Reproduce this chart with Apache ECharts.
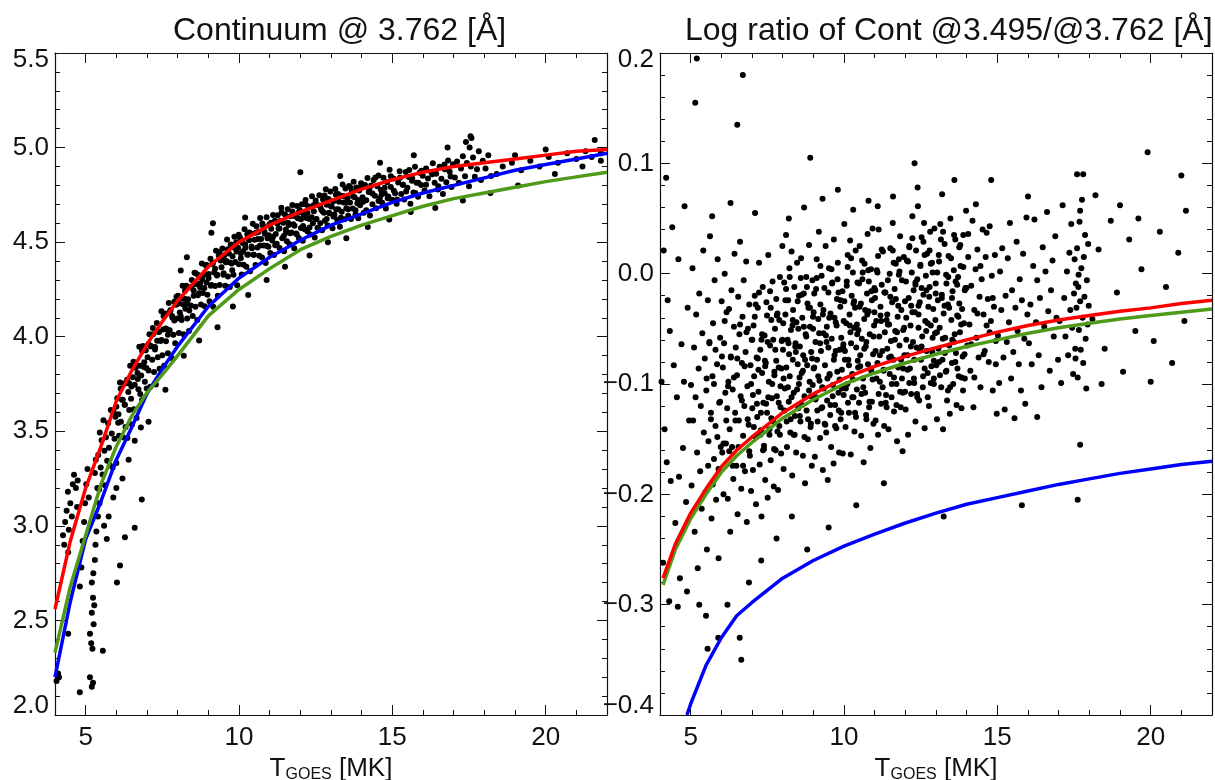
<!DOCTYPE html>
<html>
<head>
<meta charset="utf-8">
<script src="https://cdn.jsdelivr.net/npm/echarts@6/dist/echarts.min.js"></script>
<style>
html,body{margin:0;padding:0;background:#fff;}
#main{width:1215px;height:780px;}
</style>
</head>
<body>
<div id="main"></div>
<script>
// ---------- titles ----------
const titleLeft = 'Continuum @ 3.762 [Å]';
const titleRight = 'Log ratio of Cont @3.495/@3.762 [Å]';

// ---------- tick values ----------
const xMajorTicks = [5, 10, 15, 20];

// ---------- model curves, left panel (Continuum) ----------
const xCurveL = [4, 4.5, 5, 5.5, 6, 6.5, 7, 7.5, 8, 9, 10, 11, 12, 13, 14, 15, 16, 17, 18, 19, 20, 21, 22];
const redL   = [2.56, 2.92, 3.2, 3.42, 3.66, 3.82, 3.96, 4.08, 4.19, 4.37, 4.5, 4.59, 4.66, 4.72, 4.78, 4.83, 4.87, 4.9, 4.92, 4.94, 4.96, 4.98, 4.99];
const greenL = [2.33, 2.68, 2.95, 3.22, 3.42, 3.58, 3.705, 3.8, 3.9, 4.11, 4.25, 4.36, 4.46, 4.53, 4.59, 4.64, 4.69, 4.73, 4.76, 4.79, 4.82, 4.845, 4.87];
const blueL  = [2.2, 2.6, 2.93, 3.13, 3.35, 3.52, 3.7, 3.83, 3.95, 4.16, 4.31, 4.42, 4.51, 4.59, 4.65, 4.71, 4.76, 4.8, 4.84, 4.88, 4.91, 4.94, 4.97];

// ---------- model curves, right panel (log ratio) ----------
const xCurveR = [4.1, 4.5, 5, 5.5, 6, 6.5, 7, 7.5, 8, 9, 10, 11, 12, 13, 14, 15, 16, 17, 18, 19, 20, 21, 22];
const redR   = [-0.276, -0.245, -0.217, -0.195, -0.175, -0.16, -0.148, -0.137, -0.126, -0.109, -0.095, -0.084, -0.075, -0.067, -0.06, -0.053, -0.047, -0.042, -0.038, -0.034, -0.031, -0.027, -0.024];
const greenR = [-0.282, -0.25, -0.222, -0.2, -0.18, -0.165, -0.153, -0.142, -0.131, -0.114, -0.1, -0.09, -0.081, -0.073, -0.066, -0.06, -0.054, -0.049, -0.045, -0.041, -0.038, -0.035, -0.032];
const xBlueR = [4.88, 5, 5.5, 6, 6.5, 7, 8, 9, 10, 11, 12, 13, 14, 15, 16, 17, 18, 19, 20, 21, 22];
const blueR  = [-0.4, -0.39, -0.355, -0.33, -0.31, -0.298, -0.276, -0.26, -0.247, -0.236, -0.226, -0.217, -0.209, -0.203, -0.197, -0.191, -0.186, -0.181, -0.177, -0.173, -0.17];

// ---------- observations, left panel ----------
const contLow = [[4.05,2.18],[4.1,2.22],[4.13,2.2],[4.43,2.43],[4.3,2.9],[4.26,2.95],[4.38,3.08],[4.33,3.02],[4.45,2.98],[4.42,3.18],[4.5,3.12],[4.58,3.22],[4.55,3.05],[4.62,3.27],[4.68,3.2],[4.74,3.24],[4.72,3.1],[4.81,2.12],[4.81,2.68],[4.86,2.78],[4.9,2.92],[4.95,3.02],[4.98,3.12],[5.02,3.22],[5.06,3.3],[5.1,3.15],[5.14,2.2],[5.24,2.17],[5.2,2.15],[5.14,2.43],[5.2,2.54],[5.24,2.62],[5.2,2.7],[5.22,2.35],[5.18,2.38],[5.26,2.48],[5.28,2.58],[5.25,2.75],[5.3,2.82],[5.32,2.9],[5.35,2.97],[5.56,2.34],[5.69,2.93],[6.02,2.7],[6.12,2.79],[6.28,2.94],[6.6,2.99],[6.83,3.14],[5.4,3.05],[5.45,3.12],[5.38,3.2],[5.6,3.0],[5.75,3.05],[5.9,3.15],[6.0,3.2],[6.2,3.25],[6.4,3.35],[5.3,3.28],[5.33,3.35],[4.43,2.86]];
const contBandA = [[5.41,3.374],[5.44,3.192],[5.46,3.493],[5.49,3.308],[5.52,3.452],[5.55,3.271],[5.58,3.558],[5.61,3.397],[5.63,3.215],[5.66,3.469],[5.7,3.344],[5.73,3.542],[5.76,3.413],[5.79,3.321],[5.82,3.613],[5.85,3.488],[5.88,3.309],[5.91,3.602],[5.94,3.46],[5.97,3.577],[6.0,3.332],[6.03,3.674],[6.06,3.545],[6.09,3.477],[6.12,3.758],[6.15,3.55],[6.18,3.667],[6.21,3.468],[6.24,3.753],[6.27,3.64],[6.3,3.523],[6.33,3.754],[6.36,3.465],[6.39,3.708],[6.42,3.612],[6.45,3.847],[6.48,3.672],[6.51,3.536],[6.54,3.786],[6.57,3.616],[6.6,3.746],[6.63,3.852],[6.66,3.57],[6.69,3.808],[6.72,3.722],[6.75,3.947],[6.78,3.697],[6.81,3.795],[6.84,3.665],[6.87,3.951],[6.9,3.84],[6.93,3.762],[6.96,3.928],[6.99,3.726]];
const contBandB = [[7.02,3.891],[7.05,3.821],[7.08,4.013],[7.11,3.735],[7.14,3.95],[7.17,3.878],[7.2,4.013],[7.23,3.814],[7.26,3.946],[7.29,3.747],[7.32,4.072],[7.35,3.892],[7.38,4.025],[7.41,3.83],[7.44,3.977],[7.47,4.135],[7.5,3.902],[7.53,4.038],[7.56,3.847],[7.59,4.123],[7.62,3.976],[7.65,4.04],[7.68,3.913],[7.71,4.178],[7.74,4.034],[7.77,4.141],[7.8,3.888],[7.83,4.1],[7.86,4.01],[7.89,4.185],[7.92,3.965],[7.95,4.169],[7.98,4.096],[8.01,4.217],[8.04,4.019],[8.07,4.128],[8.1,4.204],[8.13,4.089],[8.16,4.27],[8.19,4.013],[8.22,4.201],[8.25,4.148],[8.28,4.27],[8.31,4.096],[8.34,4.198],[8.37,4.03],[8.4,4.261],[8.43,4.165],[8.46,4.3],[8.49,4.109],[8.52,4.216],[8.55,4.338],[8.58,4.158],[8.61,4.277],[8.64,4.088],[8.67,4.326],[8.7,4.23],[8.73,4.281],[8.76,4.17],[8.79,4.387],[8.82,4.231],[8.85,4.327],[8.88,4.161],[8.91,4.378],[8.94,4.286],[8.97,4.222]];
const contBandC = [[9.01,4.331],[9.04,4.188],[9.07,4.412],[9.1,4.273],[9.13,4.385],[9.16,4.159],[9.19,4.339],[9.22,4.268],[9.25,4.455],[9.28,4.324],[9.31,4.217],[9.34,4.43],[9.37,4.273],[9.4,4.403],[9.43,4.367],[9.46,4.466],[9.49,4.327],[9.52,4.431],[9.55,4.27],[9.58,4.402],[9.61,4.514],[9.64,4.319],[9.67,4.44],[9.7,4.263],[9.73,4.488],[9.76,4.387],[9.79,4.426],[9.82,4.328],[9.85,4.529],[9.88,4.395],[9.91,4.5],[9.94,4.272],[9.97,4.471],[10.0,4.383],[10.03,4.525],[10.06,4.44],[10.09,4.329],[10.12,4.495],[10.15,4.38],[10.18,4.568],[10.21,4.471],[10.24,4.37],[10.27,4.541],[10.3,4.435],[10.33,4.51],[10.36,4.346],[10.39,4.546],[10.42,4.468],[10.45,4.597],[10.48,4.434],[10.51,4.512],[10.54,4.379],[10.57,4.584],[10.6,4.472],[10.63,4.554],[10.66,4.428],[10.69,4.627],[10.72,4.517],[10.75,4.419],[10.78,4.587],[10.81,4.482],[10.84,4.544],[10.87,4.39],[10.9,4.632],[10.93,4.52],[10.96,4.475],[10.99,4.593]];
const contBandD = [[11.02,4.442],[11.05,4.571],[11.08,4.509],[11.11,4.644],[11.14,4.432],[11.17,4.613],[11.2,4.543],[11.23,4.491],[11.26,4.642],[11.29,4.572],[11.32,4.469],[11.35,4.612],[11.38,4.682],[11.41,4.52],[11.44,4.603],[11.47,4.452],[11.5,4.646],[11.53,4.55],[11.56,4.505],[11.59,4.674],[11.62,4.591],[11.65,4.489],[11.68,4.637],[11.71,4.551],[11.74,4.697],[11.77,4.595],[11.8,4.468],[11.83,4.637],[11.86,4.546],[11.89,4.691],[11.92,4.626],[11.95,4.522],[11.98,4.67],[12.02,4.575],[12.05,4.7],[12.08,4.508],[12.11,4.645],[12.14,4.568],[12.17,4.723],[12.2,4.628],[12.23,4.558],[12.26,4.69],[12.29,4.623],[12.32,4.54],[12.35,4.685],[12.38,4.743],[12.41,4.6],[12.44,4.663],[12.47,4.525],[12.5,4.72],[12.53,4.623],[12.56,4.575],[12.59,4.695],[12.62,4.748],[12.65,4.6],[12.68,4.673],[12.71,4.563],[12.74,4.725],[12.77,4.655],[12.8,4.613],[12.83,4.78],[12.86,4.698],[12.89,4.588],[12.92,4.728],[12.95,4.653],[12.98,4.768]];
const contBandE = [[13.02,4.689],[13.05,4.574],[13.08,4.716],[13.11,4.646],[13.14,4.781],[13.17,4.673],[13.2,4.618],[13.23,4.754],[13.26,4.714],[13.29,4.582],[13.32,4.745],[13.35,4.661],[13.38,4.805],[13.41,4.71],[13.44,4.621],[13.47,4.784],[13.5,4.679],[13.53,4.734],[13.56,4.64],[13.59,4.797],[13.62,4.71],[13.65,4.622],[13.68,4.767],[13.71,4.678],[13.74,4.819],[13.77,4.738],[13.8,4.648],[13.83,4.789],[13.86,4.706],[13.89,4.626],[13.92,4.773],[13.95,4.695],[13.98,4.812],[14.03,4.737],[14.07,4.656],[14.11,4.802],[14.15,4.721],[14.19,4.839],[14.23,4.765],[14.27,4.641],[14.31,4.8],[14.35,4.701],[14.39,4.828],[14.43,4.745],[14.47,4.679],[14.51,4.796],[14.55,4.852],[14.59,4.732],[14.63,4.776],[14.67,4.708],[14.71,4.841],[14.75,4.758],[14.79,4.678],[14.83,4.816],[14.87,4.741],[14.91,4.883],[14.95,4.791],[14.99,4.724]];
const contBandF = [[15.04,4.836],[15.09,4.759],[15.14,4.703],[15.19,4.815],[15.24,4.875],[15.29,4.754],[15.34,4.803],[15.39,4.726],[15.44,4.871],[15.49,4.788],[15.54,4.844],[15.59,4.703],[15.64,4.824],[15.69,4.763],[15.74,4.898],[15.79,4.814],[15.84,4.74],[15.89,4.867],[15.94,4.802],[15.99,4.851],[16.05,4.773],[16.1,4.889],[16.16,4.836],[16.21,4.743],[16.27,4.871],[16.32,4.917],[16.38,4.814],[16.43,4.862],[16.49,4.778],[16.54,4.898],[16.6,4.835],[16.65,4.755],[16.71,4.885],[16.76,4.816],[16.82,4.931],[16.87,4.872],[16.93,4.792],[16.98,4.912],[17.04,4.842],[17.11,4.926],[17.17,4.814],[17.24,4.89],[17.3,4.954],[17.37,4.848],[17.43,4.918],[17.5,4.796],[17.56,4.9],[17.63,4.948],[17.69,4.846],[17.76,4.886],[17.82,4.98],[17.89,4.828],[17.95,4.93],[18.04,4.89],[18.13,4.96],[18.22,4.85]];
const contCore = [[6.0,3.63],[6.07,3.59],[6.14,3.725],[6.21,3.667],[6.28,3.64],[6.35,3.772],[6.42,3.754],[6.49,3.737],[6.56,3.867],[6.63,3.836],[6.7,3.776],[6.77,3.846],[6.84,3.925],[6.91,3.865],[6.98,3.834],[7.05,3.962],[7.12,3.949],[7.19,4.046],[7.26,3.932],[7.33,3.979],[7.4,4.026],[7.47,3.983],[7.54,4.109],[7.61,4.044],[7.68,4.01],[7.75,4.135],[7.82,4.11],[7.89,4.086],[7.96,4.211],[8.03,4.175],[8.1,4.108],[8.17,4.171],[8.24,4.243],[8.31,4.176],[8.38,4.138],[8.45,4.261],[8.52,4.244],[8.59,4.336],[8.66,4.219],[8.73,4.261],[8.8,4.304],[8.87,4.257],[8.94,4.379],[9.01,4.311],[9.08,4.27],[9.15,4.39],[9.22,4.359],[9.29,4.328],[9.36,4.447],[9.43,4.406],[9.5,4.335],[9.57,4.394],[9.64,4.463],[9.71,4.392],[9.78,4.351],[9.85,4.471],[9.92,4.45],[9.99,4.539],[10.06,4.415],[10.13,4.452],[10.2,4.488],[10.27,4.434],[10.34,4.551],[10.41,4.477],[10.48,4.433],[10.55,4.55],[10.62,4.516],[10.69,4.482],[10.76,4.598],[10.83,4.555],[10.9,4.481],[10.97,4.537],[11.04,4.603],[11.11,4.528],[11.18,4.483],[11.25,4.598],[11.32,4.572],[11.39,4.657],[11.46,4.532],[11.53,4.567],[11.6,4.602],[11.67,4.547],[11.74,4.662],[11.81,4.587],[11.88,4.542],[11.95,4.657],[12.02,4.621],[12.09,4.585],[12.16,4.7],[12.23,4.654],[12.3,4.578],[12.37,4.632],[12.44,4.696],[12.51,4.621],[12.58,4.575],[12.65,4.689],[12.72,4.663],[12.79,4.747],[12.86,4.622],[12.93,4.656],[13.0,4.69],[13.08,4.635],[13.16,4.75],[13.24,4.674],[13.32,4.629],[13.4,4.744],[13.48,4.709],[13.56,4.674],[13.64,4.788],[13.72,4.743],[13.8,4.668],[13.88,4.723],[13.96,4.788],[14.05,4.713],[14.15,4.668],[14.25,4.782],[14.35,4.757],[14.45,4.842],[14.55,4.718],[14.65,4.752],[14.75,4.788],[14.85,4.732],[14.95,4.848],[15.05,4.772],[15.15,4.726],[15.25,4.84],[15.35,4.804],[15.45,4.768],[15.55,4.882],[15.65,4.836],[15.75,4.76],[15.85,4.814],[15.95,4.878],[16.1,4.803],[16.3,4.859],[16.5,4.795],[16.7,4.911],[16.9,4.847]];
const contSparse = [[6.8,3.52],[6.6,3.45],[7.05,3.55],[7.6,3.72],[8.2,3.9],[8.7,3.98],[9.3,4.05],[9.8,4.16],[10.3,4.22],[10.9,4.3],[11.5,4.37],[12.3,4.43],[12.9,4.5],[13.5,4.52],[14.2,4.58],[14.9,4.62],[15.6,4.66],[16.4,4.68],[17.3,4.72],[18.2,4.76],[19.1,4.8],[20.3,4.86],[21.2,4.9],[21.8,4.93],[8.1,4.35],[8.3,4.42],[9.15,4.6],[9.1,4.55],[10.2,4.63],[12.0,4.87],[13.3,4.85],[14.6,4.92],[15.7,4.96],[16.8,5.0],[17.4,5.03],[17.55,5.06],[17.58,5.05],[17.52,5.0],[18.4,4.86],[18.6,4.9],[18.9,4.92],[19.2,4.88],[19.5,4.93],[19.8,4.9],[20.1,4.95],[20.4,4.92],[20.7,4.97],[21.0,4.94],[21.3,4.98],[21.5,4.95],[21.6,5.04],[21.8,4.97],[19.0,4.96],[20.0,4.99]];

// ---------- observations, right panel ----------
const ratioG1 = [[4.1,-0.262],[4.15,-0.141],[4.2,0.087],[4.25,-0.024],[4.3,-0.297],[4.35,-0.188],[4.4,0.042],[4.45,-0.083],[4.5,-0.226],[4.55,-0.112],[4.6,0.013],[4.65,-0.276],[4.7,-0.064],[4.75,-0.158],[4.8,0.061],[4.85,-0.207],[4.9,-0.031],[4.95,-0.133],[4.05,-0.098],[4.12,0.021],[4.32,-0.052],[4.58,-0.302],[4.88,-0.288],[4.22,-0.171],[4.62,-0.184],[4.78,-0.098]];
const ratioG2 = [[5.01,-0.101],[5.03,-0.192],[5.06,0.005],[5.08,-0.133],[5.11,-0.067],[5.13,-0.234],[5.16,-0.112],[5.18,-0.037],[5.21,-0.162],[5.23,-0.267],[5.26,-0.086],[5.28,-0.018],[5.31,-0.179],[5.33,-0.12],[5.36,-0.213],[5.38,-0.054],[5.41,0.021],[5.43,-0.144],[5.46,-0.077],[5.48,-0.198],[5.51,-0.106],[5.53,-0.25],[5.56,-0.024],[5.58,-0.152],[5.61,-0.062],[5.63,0.034],[5.66,-0.126],[5.68,-0.222],[5.71,-0.093],[5.73,-0.045],[5.76,-0.168],[5.78,-0.006],[5.81,-0.138],[5.83,-0.205],[5.86,-0.082],[5.88,0.013],[5.91,-0.258],[5.93,-0.117],[5.96,-0.058],[5.98,-0.157]];
const ratioG3 = [[6.01,-0.025],[6.03,-0.162],[6.05,-0.085],[6.07,-0.2],[6.09,-0.063],[6.11,0.0],[6.13,-0.108],[6.15,-0.154],[6.17,-0.035],[6.19,-0.122],[6.21,-0.204],[6.23,-0.098],[6.25,-0.032],[6.27,-0.141],[6.29,-0.234],[6.31,-0.076],[6.33,-0.015],[6.35,-0.157],[6.37,-0.105],[6.39,-0.186],[6.41,-0.048],[6.43,0.018],[6.45,-0.126],[6.47,-0.067],[6.49,-0.174],[6.51,-0.092],[6.53,-0.218],[6.55,-0.021],[6.57,-0.133],[6.59,-0.055],[6.61,0.029],[6.63,-0.111],[6.65,-0.195],[6.67,-0.081],[6.69,-0.039],[6.71,-0.147],[6.73,-0.006],[6.75,-0.12],[6.77,-0.179],[6.79,-0.071],[6.81,0.011],[6.83,-0.225],[6.85,-0.102],[6.87,-0.05],[6.89,-0.137],[6.91,-0.028],[6.93,-0.165],[6.95,-0.083],[6.97,-0.197],[6.99,-0.06]];
const ratioG4 = [[7.01,-0.122],[7.03,-0.178],[7.05,-0.047],[7.07,-0.093],[7.09,-0.02],[7.11,-0.148],[7.13,-0.209],[7.15,-0.076],[7.17,-0.13],[7.19,-0.031],[7.21,-0.107],[7.23,0.01],[7.25,-0.173],[7.27,-0.069],[7.29,-0.142],[7.31,-0.22],[7.33,-0.09],[7.35,-0.012],[7.37,-0.117],[7.39,-0.156],[7.41,-0.056],[7.43,-0.187],[7.45,-0.081],[7.47,-0.026],[7.49,-0.126],[7.51,-0.203],[7.53,0.017],[7.55,-0.098],[7.57,-0.146],[7.59,-0.065],[7.61,-0.169],[7.63,-0.042],[7.65,-0.113],[7.67,-0.007],[7.69,-0.134],[7.71,-0.193],[7.73,-0.092],[7.75,-0.05],[7.77,-0.16],[7.79,-0.079],[7.81,-0.111],[7.83,-0.036],[7.85,-0.196],[7.87,-0.085],[7.89,-0.138],[7.91,-0.003],[7.93,-0.102],[7.95,-0.163],[7.97,-0.061],[7.99,0.025]];
const ratioG5 = [[8.01,-0.069],[8.03,-0.177],[8.05,-0.008],[8.07,-0.104],[8.09,-0.037],[8.11,0.035],[8.12,-0.085],[8.14,-0.157],[8.16,-0.06],[8.18,-0.024],[8.2,-0.116],[8.22,0.005],[8.23,-0.093],[8.25,-0.144],[8.27,-0.051],[8.29,0.02],[8.31,-0.183],[8.33,-0.078],[8.34,-0.033],[8.36,-0.108],[8.38,-0.012],[8.4,-0.129],[8.42,-0.063],[8.44,-0.162],[8.45,-0.044],[8.47,0.01],[8.49,-0.082],[8.51,-0.122],[8.53,-0.02],[8.55,-0.094],[8.56,-0.066],[8.58,-0.134],[8.6,0.014],[8.62,-0.09],[8.64,-0.04],[8.66,-0.165],[8.67,-0.074],[8.69,-0.018],[8.71,-0.111],[8.73,-0.19],[8.75,-0.055],[8.77,-0.003],[8.78,-0.124],[8.8,-0.083],[8.82,-0.15],[8.84,-0.031],[8.86,0.026],[8.88,-0.098],[8.89,-0.048],[8.91,-0.139],[8.93,-0.071],[8.95,-0.174],[8.97,-0.006],[8.98,-0.101],[8.99,-0.039]];
const ratioG6 = [[9.01,-0.086],[9.03,-0.018],[9.05,-0.166],[9.07,-0.062],[9.09,-0.112],[9.11,0.013],[9.12,-0.078],[9.14,-0.134],[9.16,-0.041],[9.18,0.038],[9.2,-0.097],[9.22,-0.149],[9.23,-0.028],[9.25,-0.07],[9.27,-0.002],[9.29,-0.121],[9.31,-0.178],[9.33,-0.054],[9.34,-0.104],[9.36,-0.013],[9.38,-0.083],[9.4,0.025],[9.42,-0.144],[9.44,-0.048],[9.45,-0.115],[9.47,-0.187],[9.49,-0.067],[9.51,0.005],[9.53,-0.092],[9.55,-0.128],[9.56,-0.036],[9.58,-0.157],[9.6,-0.059],[9.62,-0.008],[9.64,-0.101],[9.66,-0.172],[9.67,0.031],[9.69,-0.074],[9.71,-0.119],[9.73,-0.044],[9.75,-0.14],[9.77,-0.023],[9.78,-0.089],[9.8,0.01],[9.82,-0.108],[9.84,-0.162],[9.86,-0.069],[9.88,-0.03],[9.89,-0.132],[9.91,-0.058],[9.93,-0.087],[9.95,-0.016],[9.96,-0.163],[9.98,-0.064],[9.99,-0.11]];
const ratioG7 = [[10.01,0.045],[10.03,-0.07],[10.05,-0.139],[10.07,-0.045],[10.09,-0.011],[10.11,-0.1],[10.12,0.017],[10.14,-0.078],[10.16,-0.126],[10.18,-0.037],[10.2,0.03],[10.22,-0.164],[10.23,-0.063],[10.25,-0.02],[10.27,-0.091],[10.29,0.001],[10.31,-0.112],[10.33,-0.049],[10.34,-0.143],[10.36,-0.031],[10.38,0.021],[10.4,-0.067],[10.42,-0.105],[10.44,-0.008],[10.45,-0.079],[10.47,-0.051],[10.49,-0.117],[10.51,0.025],[10.53,-0.074],[10.55,-0.027],[10.56,-0.147],[10.58,-0.059],[10.6,-0.005],[10.62,-0.095],[10.64,-0.171],[10.66,-0.041],[10.67,0.009],[10.69,-0.108],[10.71,-0.066],[10.73,-0.132],[10.75,-0.018],[10.77,0.036],[10.78,-0.082],[10.8,-0.034],[10.82,-0.121],[10.84,-0.055],[10.86,-0.158],[10.88,0.004],[10.89,-0.088],[10.91,-0.024],[10.93,0.041],[10.95,-0.073],[10.96,-0.136],[10.98,-0.047],[10.99,-0.013]];
const ratioG8 = [[11.01,-0.022],[11.03,-0.133],[11.05,-0.043],[11.07,0.003],[11.09,-0.081],[11.11,-0.146],[11.13,0.04],[11.15,-0.057],[11.17,-0.098],[11.19,-0.03],[11.21,-0.118],[11.23,-0.01],[11.25,-0.07],[11.27,0.02],[11.29,-0.088],[11.31,-0.138],[11.33,-0.053],[11.35,-0.017],[11.37,-0.11],[11.39,-0.042],[11.41,-0.068],[11.43,-0.006],[11.45,-0.141],[11.47,-0.046],[11.49,-0.091],[11.51,0.023],[11.53,-0.061],[11.55,-0.112],[11.57,-0.026],[11.59,0.046],[11.61,-0.078],[11.63,-0.125],[11.65,-0.014],[11.67,-0.052],[11.69,0.009],[11.71,-0.1],[11.73,-0.152],[11.75,-0.039],[11.77,-0.085],[11.79,-0.001],[11.81,-0.065],[11.83,0.034],[11.85,-0.121],[11.87,-0.033],[11.89,-0.095],[11.91,-0.161],[11.93,-0.051],[11.95,0.015],[11.97,-0.074],[11.99,-0.107]];
const ratioG9 = [[12.01,-0.123],[12.03,-0.04],[12.05,0.012],[12.07,-0.074],[12.09,-0.146],[12.11,-0.022],[12.13,0.025],[12.15,-0.086],[12.17,-0.047],[12.19,-0.109],[12.21,0.001],[12.23,0.052],[12.25,-0.062],[12.27,-0.015],[12.29,-0.099],[12.31,-0.035],[12.33,-0.134],[12.35,0.021],[12.37,-0.067],[12.39,-0.005],[12.41,0.061],[12.43,-0.049],[12.45,-0.115],[12.47,-0.026],[12.49,0.007],[12.51,-0.078],[12.53,0.033],[12.55,-0.057],[12.57,-0.103],[12.59,-0.019],[12.61,0.046],[12.63,-0.14],[12.65,-0.043],[12.67,-0.002],[12.69,-0.07],[12.71,0.018],[12.73,-0.09],[12.75,-0.03],[12.77,-0.12],[12.79,-0.012],[12.81,0.038],[12.83,-0.047],[12.85,-0.084],[12.87,0.01],[12.89,-0.058],[12.91,-0.032],[12.93,-0.095],[12.95,0.041],[12.97,-0.054],[12.99,-0.009]];
const ratioG10 = [[13.01,-0.083],[13.03,-0.132],[13.06,-0.024],[13.08,-0.068],[13.1,0.011],[13.12,-0.049],[13.14,0.045],[13.17,-0.103],[13.19,-0.019],[13.21,-0.078],[13.23,-0.141],[13.25,-0.036],[13.28,0.027],[13.3,-0.058],[13.32,-0.089],[13.34,-0.009],[13.36,-0.115],[13.39,-0.028],[13.41,0.016],[13.43,-0.065],[13.45,-0.127],[13.47,0.05],[13.5,-0.042],[13.52,-0.081],[13.54,-0.016],[13.56,-0.1],[13.58,0.003],[13.61,-0.055],[13.63,0.031],[13.65,-0.072],[13.67,-0.119],[13.69,-0.038],[13.72,-0.003],[13.74,-0.093],[13.76,-0.027],[13.78,-0.053],[13.8,0.007],[13.83,-0.122],[13.85,-0.032],[13.87,-0.075],[13.89,0.035],[13.91,-0.045],[13.94,-0.095],[13.96,-0.013],[13.98,0.057]];
const ratioG11 = [[14.02,-0.065],[14.05,0.036],[14.09,-0.046],[14.12,-0.088],[14.15,-0.011],[14.19,0.048],[14.22,-0.121],[14.25,-0.033],[14.29,0.004],[14.32,-0.058],[14.35,0.022],[14.39,-0.076],[14.42,-0.021],[14.45,-0.103],[14.49,-0.005],[14.52,0.04],[14.55,-0.037],[14.59,-0.07],[14.62,0.015],[14.65,-0.047],[14.69,-0.023],[14.72,-0.08],[14.75,0.043],[14.79,-0.043],[14.82,-0.002],[14.85,-0.106],[14.89,-0.03],[14.92,0.017],[14.95,-0.061],[14.98,-0.127]];
const ratioG12 = [[15.02,-0.056],[15.06,-0.099],[15.09,0.002],[15.13,-0.033],[15.16,0.023],[15.2,-0.076],[15.24,-0.123],[15.27,-0.02],[15.31,-0.062],[15.34,0.014],[15.38,-0.044],[15.41,0.046],[15.45,-0.095],[15.48,-0.015],[15.52,-0.071],[15.56,-0.131],[15.59,-0.031],[15.63,0.029],[15.66,-0.052],[15.7,-0.082],[15.73,-0.005],[15.77,-0.106],[15.8,-0.024],[15.84,0.018],[15.88,-0.059],[15.91,-0.118],[15.95,0.051],[15.98,-0.037]];
const ratioG13 = [[16.03,-0.063],[16.08,-0.028],[16.12,-0.082],[16.17,0.007],[16.21,0.049],[16.26,-0.044],[16.3,-0.006],[16.35,-0.074],[16.39,-0.022],[16.44,-0.103],[16.48,0.024],[16.53,-0.048],[16.57,0.002],[16.62,0.056],[16.66,-0.034],[16.71,-0.088],[16.75,-0.015],[16.8,0.012],[16.84,-0.057],[16.89,0.034],[16.93,-0.04],[16.98,-0.078]];
const ratioG14 = [[17.03,-0.043],[17.08,-0.099],[17.13,0.062],[17.18,-0.022],[17.22,-0.057],[17.27,0.002],[17.31,-0.074],[17.35,0.019],[17.38,-0.033],[17.41,0.045],[17.44,-0.049],[17.47,-0.091],[17.5,-0.018],[17.52,0.013],[17.54,-0.068],[17.56,-0.009],[17.58,-0.031],[17.6,0.023],[17.62,-0.094],[17.64,-0.012],[17.66,-0.051],[17.68,0.047],[17.7,-0.025],[17.72,-0.069],[17.74,0.005],[17.76,0.067],[17.78,-0.04],[17.8,-0.081],[17.82,0.015],[17.84,-0.021],[17.86,0.035],[17.88,-0.059],[17.9,-0.104],[17.92,-0.006],[17.94,-0.046],[17.96,0.027],[17.98,-0.029],[17.7,0.057],[17.55,-0.077],[17.65,-0.001]];
const ratioG15 = [[18.1,-0.041],[18.3,0.022],[18.5,-0.068],[18.7,0.048],[18.9,-0.017],[19.1,-0.089],[19.3,0.031],[19.5,-0.052],[19.7,0.004],[20.1,-0.061],[20.3,0.038],[20.5,-0.012],[20.7,-0.081],[20.9,0.019],[21.1,-0.043],[21.15,0.057],[18.2,0.071],[19.0,0.062],[20.0,-0.098],[21.0,0.089],[18.4,-0.1],[19.6,0.05]];
const ratioCore = [[5.52,-0.095],[5.57,-0.174],[5.61,-0.063],[5.66,-0.132],[5.72,-0.191],[5.76,-0.1],[5.81,-0.069],[5.87,-0.148],[5.91,-0.177],[5.96,-0.116],[6.02,-0.075],[6.07,-0.154],[6.11,-0.043],[6.16,-0.133],[6.22,-0.102],[6.26,-0.161],[6.31,-0.075],[6.37,-0.174],[6.41,-0.094],[6.46,-0.133],[6.52,-0.077],[6.56,-0.157],[6.61,-0.046],[6.67,-0.115],[6.71,-0.174],[6.76,-0.084],[6.82,-0.053],[6.86,-0.132],[6.91,-0.161],[6.97,-0.1],[7.01,-0.06],[7.06,-0.139],[7.12,-0.028],[7.16,-0.118],[7.21,-0.087],[7.27,-0.146],[7.31,-0.06],[7.36,-0.16],[7.42,-0.079],[7.46,-0.118],[7.51,-0.062],[7.57,-0.141],[7.61,-0.031],[7.66,-0.1],[7.72,-0.159],[7.76,-0.069],[7.81,-0.038],[7.87,-0.117],[7.91,-0.146],[7.96,-0.086],[8.02,-0.045],[8.06,-0.124],[8.11,-0.014],[8.17,-0.103],[8.21,-0.073],[8.26,-0.132],[8.32,-0.047],[8.36,-0.146],[8.41,-0.066],[8.47,-0.105],[8.51,-0.05],[8.56,-0.129],[8.62,-0.019],[8.66,-0.088],[8.71,-0.148],[8.77,-0.057],[8.81,-0.027],[8.86,-0.106],[8.92,-0.136],[8.96,-0.077],[9.01,-0.035],[9.07,-0.114],[9.11,-0.004],[9.16,-0.093],[9.22,-0.063],[9.26,-0.122],[9.31,-0.037],[9.37,-0.136],[9.41,-0.056],[9.46,-0.095],[9.52,-0.04],[9.56,-0.119],[9.61,-0.009],[9.67,-0.078],[9.71,-0.138],[9.76,-0.047],[9.82,-0.017],[9.86,-0.096],[9.91,-0.126],[9.97,-0.067],[10.01,-0.025],[10.06,-0.104],[10.12,0.006],[10.16,-0.083],[10.21,-0.053],[10.27,-0.112],[10.31,-0.027],[10.36,-0.126],[10.42,-0.046],[10.46,-0.085],[10.51,-0.03],[10.57,-0.109],[10.61,0.001],[10.66,-0.068],[10.72,-0.128],[10.76,-0.037],[10.81,-0.007],[10.87,-0.086],[10.91,-0.116],[10.96,-0.057],[11.02,-0.015],[11.06,-0.095],[11.11,0.016],[11.17,-0.074],[11.21,-0.043],[11.26,-0.103],[11.32,-0.017],[11.36,-0.117],[11.41,-0.037],[11.47,-0.076],[11.51,-0.021],[11.56,-0.1],[11.62,0.01],[11.66,-0.06],[11.71,-0.119],[11.77,-0.029],[11.81,0.002],[11.86,-0.078],[11.92,-0.108],[11.96,-0.049],[12.02,-0.007],[12.07,-0.087],[12.13,0.024],[12.18,-0.066],[12.23,-0.035],[12.28,-0.095],[12.33,-0.01],[12.38,-0.109],[12.43,-0.029],[12.48,-0.069],[12.53,-0.013],[12.58,-0.093],[12.63,0.017],[12.68,-0.052],[12.73,-0.112],[12.78,-0.021],[12.83,0.009],[12.88,-0.071],[12.93,-0.1],[12.98,-0.042],[13.04,0.001],[13.1,-0.08],[13.16,0.031],[13.22,-0.059],[13.28,-0.029],[13.34,-0.088],[13.4,-0.003],[13.46,-0.103],[13.52,-0.022],[13.58,-0.062],[13.64,-0.007],[13.7,-0.086],[13.76,0.024],[13.82,-0.046],[13.88,-0.106],[13.94,-0.015],[14.05,0.015],[14.15,-0.064],[14.25,-0.094],[14.35,-0.036],[14.45,0.007],[14.55,-0.073],[14.65,0.037],[14.75,-0.053],[14.85,-0.022],[14.95,-0.082]];
const ratioCore2 = [[7.03,-0.11],[7.09,-0.039],[7.13,-0.148],[7.19,-0.077],[7.23,-0.017],[7.29,-0.126],[7.33,-0.055],[7.39,-0.159],[7.43,-0.084],[7.49,-0.038],[7.53,-0.112],[7.59,-0.016],[7.63,-0.131],[7.69,-0.06],[7.73,-0.089],[7.79,-0.023],[7.83,-0.143],[7.89,-0.042],[7.93,-0.121],[7.99,-0.06],[8.03,-0.095],[8.09,-0.024],[8.13,-0.134],[8.19,-0.063],[8.23,-0.003],[8.29,-0.112],[8.33,-0.042],[8.39,-0.146],[8.43,-0.071],[8.49,-0.025],[8.53,-0.1],[8.59,-0.004],[8.63,-0.119],[8.69,-0.048],[8.73,-0.078],[8.79,-0.012],[8.83,-0.132],[8.89,-0.031],[8.93,-0.111],[8.99,-0.05],[9.03,-0.085],[9.09,-0.014],[9.13,-0.124],[9.19,-0.054],[9.23,0.007],[9.29,-0.103],[9.33,-0.033],[9.39,-0.137],[9.43,-0.062],[9.49,-0.017],[9.53,-0.091],[9.59,0.004],[9.63,-0.111],[9.69,-0.04],[9.73,-0.07],[9.79,-0.005],[9.83,-0.124],[9.89,-0.024],[9.93,-0.104],[9.99,-0.043],[10.03,-0.078],[10.09,-0.007],[10.13,-0.117],[10.19,-0.047],[10.23,0.014],[10.29,-0.096],[10.33,-0.025],[10.39,-0.13],[10.43,-0.055],[10.49,-0.009],[10.53,-0.084],[10.59,0.012],[10.63,-0.103],[10.69,-0.033],[10.73,-0.062],[10.79,0.003],[10.83,-0.116],[10.89,-0.016],[10.93,-0.096],[10.99,-0.035],[11.03,-0.07],[11.09,0.001],[11.13,-0.109],[11.19,-0.038],[11.23,0.022],[11.29,-0.087],[11.33,-0.017],[11.39,-0.121],[11.43,-0.046],[11.49,0.0],[11.53,-0.075],[11.59,0.021],[11.63,-0.094],[11.69,-0.023],[11.73,-0.053],[11.79,0.013],[11.83,-0.107],[11.89,-0.006],[11.93,-0.086],[11.99,-0.025],[12.03,-0.06],[12.09,0.011],[12.13,-0.099],[12.19,-0.029],[12.23,0.032],[12.29,-0.078],[12.33,-0.008],[12.39,-0.112],[12.43,-0.037],[12.49,0.008],[12.53,-0.066],[12.59,0.029],[12.63,-0.086],[12.69,-0.015],[12.73,-0.045],[12.79,0.021],[12.83,-0.099],[12.89,0.001],[12.93,-0.079],[12.99,-0.018],[13.03,-0.053],[13.09,0.017],[13.13,-0.092],[13.19,-0.022],[13.23,0.038],[13.29,-0.072],[13.33,-0.001],[13.39,-0.106],[13.43,-0.031],[13.49,0.014],[13.53,-0.06],[13.59,0.035],[13.63,-0.08],[13.69,-0.01],[13.73,-0.039],[13.79,0.026],[13.83,-0.094],[13.89,0.006],[13.93,-0.073],[13.99,-0.013]];
const ratioOut = [[5.2,0.195],[5.15,0.155],[6.52,0.135],[6.7,0.18],[8.9,0.105],[12.3,0.1],[19.9,0.11],[17.6,0.09],[17.8,0.09],[14.8,0.085],[13.6,0.085],[5.55,-0.34],[6.2,-0.3],[6.9,-0.28],[7.3,-0.26],[5.9,-0.33],[6.6,-0.33],[6.65,-0.35],[5.28,-0.3],[5.5,-0.31],[8.8,-0.25],[13.25,-0.22],[15.8,-0.21],[17.62,-0.205],[17.7,-0.155],[16.3,-0.13],[9.5,-0.23],[10.4,-0.21],[11.3,-0.19],[7.8,-0.24],[8.3,-0.22],[8.2,0.05],[8.7,0.06],[9.3,0.068],[9.8,0.076],[10.3,0.058],[10.8,0.066],[11.6,0.07],[12.4,0.078],[11.1,0.061],[7.1,0.055],[6.3,0.064],[5.7,0.052],[13.2,0.072],[14.3,0.063],[16.0,0.07]];

// ---------- build ----------
const FONT = 'Liberation Sans';
const INK = '#111';
const pair = (xs, ys) => xs.map((x, i) => [x, ys[i]]);
const contPts = [].concat(contLow, contBandA, contBandB, contBandC, contBandD, contBandE, contBandF, contCore, contSparse);
const ratioPts = [].concat(ratioG1, ratioG2, ratioG3, ratioG4, ratioG5, ratioG6, ratioG7, ratioG8, ratioG9, ratioG10, ratioG11, ratioG12, ratioG13, ratioG14, ratioG15, ratioCore, ratioCore2, ratioOut);

const gridL = {left: 55, top: 53, width: 552, height: 662, outerBoundsMode: 'none', containLabel: false};
const gridR = {left: 660, top: 53, width: 552, height: 662, outerBoundsMode: 'none', containLabel: false};

function xAxes(gi) {
  const base = {gridIndex: gi, type: 'value', min: 4, max: 22, splitLine: {show: false}};
  const line = {show: true, onZero: false, lineStyle: {color: INK, width: 1.2}};
  const noLine = {show: false, onZero: false};
  return [
    Object.assign({}, base, {
      position: 'bottom', interval: 1, axisLine: line,
      axisTick: {show: true, inside: true, length: 5, lineStyle: {color: INK}},
      axisLabel: {show: true, margin: 10, fontSize: 26, fontFamily: FONT, color: INK,
        formatter: v => (v % 5 === 0 ? String(v) : '')},
      name: '{t|T}{s|GOES}{t| [MK]}', nameLocation: 'middle', nameGap: 36,
      nameTextStyle: {rich: {
        t: {fontSize: 26, fontFamily: FONT, color: INK},
        s: {fontSize: 16, fontFamily: FONT, color: INK, padding: [12, 0, 0, 0]}
      }}
    }),
    Object.assign({}, base, {
      position: 'bottom', axisLine: noLine, axisLabel: {show: false},
      axisTick: {show: true, inside: true, length: 10, customValues: xMajorTicks, lineStyle: {color: INK}}
    }),
    Object.assign({}, base, {
      position: 'top', interval: 1, axisLine: line, axisLabel: {show: false},
      axisTick: {show: true, inside: true, length: 5, lineStyle: {color: INK}}
    }),
    Object.assign({}, base, {
      position: 'top', axisLine: noLine, axisLabel: {show: false},
      axisTick: {show: true, inside: true, length: 10, customValues: xMajorTicks, lineStyle: {color: INK}}
    })
  ];
}

function yAxes(gi, mn, mx, step) {
  const txt = {fontSize: 26, fontFamily: FONT, color: INK};
  const fmt = v => {
    const s = (v < -1e-9 ? '\u2212' : '') + Math.abs(v).toFixed(1);
    if (Math.abs(v - mx) < 1e-9) return '{hi|' + s + '}';
    if (Math.abs(v - mn) < 1e-9) return '{lo|' + s + '}';
    return '{n|' + s + '}';
  };
  const base = {gridIndex: gi, type: 'value', min: mn, max: mx, interval: step, splitLine: {show: false},
    axisLine: {show: true, onZero: false, lineStyle: {color: INK, width: 1.2}},
    axisTick: {show: true, inside: true, length: 10, lineStyle: {color: INK}},
    minorTick: {show: true, splitNumber: 5, length: 5, lineStyle: {color: INK}}};
  return [
    Object.assign({}, base, {position: 'left',
      axisLabel: {show: true, margin: 6, formatter: fmt, rich: {
        n: txt,
        hi: Object.assign({padding: [14, 0, 0, 0]}, txt),
        lo: Object.assign({padding: [0, 0, 18, 0]}, txt)
      }}}),
    Object.assign({}, base, {position: 'right', axisLabel: {show: false}})
  ];
}

const lineSeries = (xi, yi, data, color) => ({
  type: 'line', xAxisIndex: xi, yAxisIndex: yi, data: data, showSymbol: false, symbol: 'none',
  clip: true, lineStyle: {color: color, width: 3.5}, silent: true, animation: false
});
const dots = (xi, yi, data, size) => ({
  type: 'scatter', xAxisIndex: xi, yAxisIndex: yi, data: data, symbol: 'circle', symbolSize: size,
  itemStyle: {color: '#000', opacity: 1}, silent: true, animation: false, large: false
});

const RED = '#ff0000', GREEN = '#4f9a19', BLUE = '#0000ff';

const option = {
  animation: false,
  backgroundColor: '#fff',
  title: [
    {text: titleLeft, left: 168, top: 10, textStyle: {fontSize: 32, fontWeight: 'normal', fontFamily: FONT, color: INK}},
    {text: titleRight, left: 680, top: 10, textStyle: {fontSize: 32, fontWeight: 'normal', fontFamily: FONT, color: INK}}
  ],
  grid: [gridL, gridR],
  xAxis: [].concat(xAxes(0), xAxes(1)),
  yAxis: [].concat(yAxes(0, 2.0, 5.5, 0.5), yAxes(1, -0.4, 0.2, 0.1)),
  series: [
    dots(0, 0, contPts, 6),
    lineSeries(0, 0, pair(xCurveL, blueL), BLUE),
    lineSeries(0, 0, pair(xCurveL, greenL), GREEN),
    lineSeries(0, 0, pair(xCurveL, redL), RED),
    dots(4, 2, ratioPts, 6),
    lineSeries(4, 2, pair(xBlueR, blueR), BLUE),
    lineSeries(4, 2, pair(xCurveR, greenR), GREEN),
    lineSeries(4, 2, pair(xCurveR, redR), RED)
  ]
};

const chart = echarts.init(document.getElementById('main'), null, {renderer: 'canvas'});
chart.setOption(option);
</script>
</body>
</html>
